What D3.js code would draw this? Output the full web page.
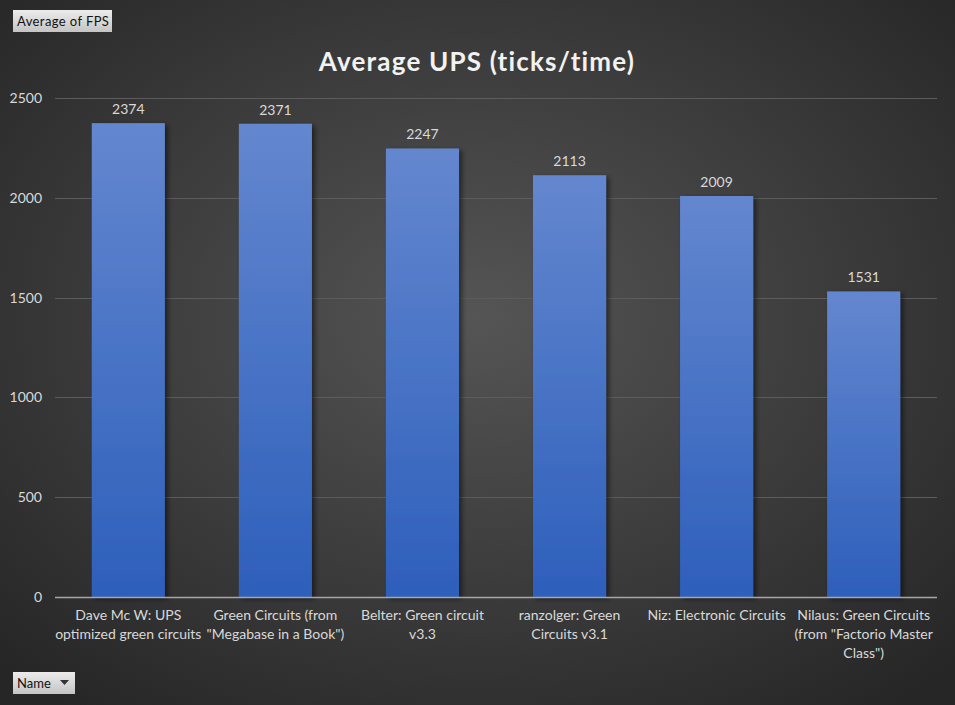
<!DOCTYPE html>
<html><head><meta charset="utf-8">
<script src="https://cdn.jsdelivr.net/npm/d3@7"></script>
<style>
html,body{margin:0;padding:0;background:#3a3a3a;}
svg{display:block;}
</style></head>
<body>
<script>
const categories = [
  ["Dave Mc W: UPS", "optimized green circuits"],
  ["Green Circuits (from", "\"Megabase in a Book\")"],
  ["Belter: Green circuit", "v3.3"],
  ["ranzolger: Green", "Circuits v3.1"],
  ["Niz: Electronic Circuits"],
  ["Nilaus: Green Circuits", "(from \"Factorio Master", "Class\")"]
];
const values = [2374, 2371, 2247, 2113, 2009, 1531];
const yTicks = [0, 500, 1000, 1500, 2000, 2500];
const title = "Average UPS (ticks/time)";

(function () {
const W = 955, H = 705;
const font = "Lato, 'Open Sans', sans-serif";
const svg = d3.select("body").append("svg").attr("width", W).attr("height", H);
const defs = svg.append("defs");

const bg = defs.append("radialGradient").attr("id", "bg")
  .attr("cx", "50%").attr("cy", "45%").attr("r", "70%");
bg.append("stop").attr("offset", "0%").attr("stop-color", "#555555");
bg.append("stop").attr("offset", "100%").attr("stop-color", "#262626");

const barG = defs.append("linearGradient").attr("id", "barg")
  .attr("x1", 0).attr("y1", 0).attr("x2", 0).attr("y2", 1);
barG.append("stop").attr("offset", "0%").attr("stop-color", "#6487cf");
barG.append("stop").attr("offset", "100%").attr("stop-color", "#2d5fbb");

const btn = defs.append("linearGradient").attr("id", "btn")
  .attr("x1", 0).attr("y1", 0).attr("x2", 0).attr("y2", 1);
btn.append("stop").attr("offset", "0%").attr("stop-color", "#ececec");
btn.append("stop").attr("offset", "100%").attr("stop-color", "#c4c4c4");

const sh = defs.append("filter").attr("id", "shadow")
  .attr("x", "-20%").attr("y", "-5%").attr("width", "150%").attr("height", "115%");
sh.append("feDropShadow").attr("dx", 3).attr("dy", 2).attr("stdDeviation", 2.5)
  .attr("flood-color", "#000").attr("flood-opacity", 0.5);

svg.append("rect").attr("width", W).attr("height", H).attr("fill", "url(#bg)");

const pLeft = 55, pRight = 937, pTop = 98, pBottom = 597;
const x = d3.scaleBand().domain(d3.range(categories.length)).range([pLeft, pRight]).paddingInner(0.503).paddingOuter(0.25);
const y = d3.scaleLinear().domain([0, 2500]).range([pBottom, pTop]);

svg.append("g").selectAll("line").data(yTicks.filter(t => t > 0)).join("line")
  .attr("x1", pLeft).attr("x2", pRight)
  .attr("y1", d => Math.round(y(d)) + 0.5).attr("y2", d => Math.round(y(d)) + 0.5)
  .attr("stroke", "#5c5c5c").attr("stroke-width", 1);

const yAxis = d3.axisLeft(y).tickValues(yTicks).tickSize(0).tickPadding(0).tickFormat(d3.format("d"));
const ya = svg.append("g").attr("transform", `translate(${pLeft - 13},0)`).call(yAxis);
ya.select(".domain").remove();
ya.selectAll("text").attr("fill", "#d9d9d9").attr("font-size", "14px").attr("font-family", font);

svg.append("g").selectAll("rect").data(values).join("rect")
  .attr("x", (d, i) => x(i)).attr("width", x.bandwidth())
  .attr("y", d => y(d)).attr("height", d => pBottom - y(d))
  .attr("fill", "url(#barg)").attr("filter", "url(#shadow)");

svg.append("line").attr("x1", pLeft).attr("x2", pRight).attr("y1", pBottom + 0.5).attr("y2", pBottom + 0.5)
  .attr("stroke", "#a6a6a6").attr("stroke-width", 1.5);

svg.append("g").selectAll("text").data(values).join("text")
  .attr("x", (d, i) => x(i) + x.bandwidth() / 2).attr("y", d => y(d) - 9)
  .attr("text-anchor", "middle").attr("fill", "#d9d9d9").attr("font-size", "14px").attr("font-family", font)
  .text(d => d);

const cg = svg.append("g");
categories.forEach((lines, i) => {
  const t = cg.append("text").attr("text-anchor", "middle").attr("fill", "#d9d9d9")
    .attr("font-size", "14px").attr("font-family", font);
  lines.forEach((ln, j) => {
    t.append("tspan").attr("x", x(i) + x.bandwidth() / 2).attr("y", 620 + j * 19).text(ln);
  });
});

svg.append("text").attr("x", 477).attr("y", 71).attr("text-anchor", "middle")
  .attr("fill", "#f2f2f2").attr("font-size", "26px").attr("font-weight", "bold")
  .attr("font-family", font).attr("letter-spacing", "1.2px").text(title);

const b1 = svg.append("g");
b1.append("rect").attr("x", 13).attr("y", 10).attr("width", 99).attr("height", 22).attr("fill", "url(#btn)");
b1.append("text").attr("x", 17).attr("y", 26).attr("fill", "#111").attr("font-size", "13px")
  .attr("font-family", font).attr("letter-spacing", "0.4px").text("Average of FPS");

const b2 = svg.append("g");
b2.append("rect").attr("x", 13).attr("y", 672).attr("width", 62).attr("height", 22).attr("fill", "url(#btn)");
b2.append("text").attr("x", 17).attr("y", 688).attr("fill", "#111").attr("font-size", "13px")
  .attr("font-family", font).text("Name");
b2.append("path").attr("d", "M60,680 L69,680 L64.5,685 Z").attr("fill", "#333");
})();
</script>
</body></html>
